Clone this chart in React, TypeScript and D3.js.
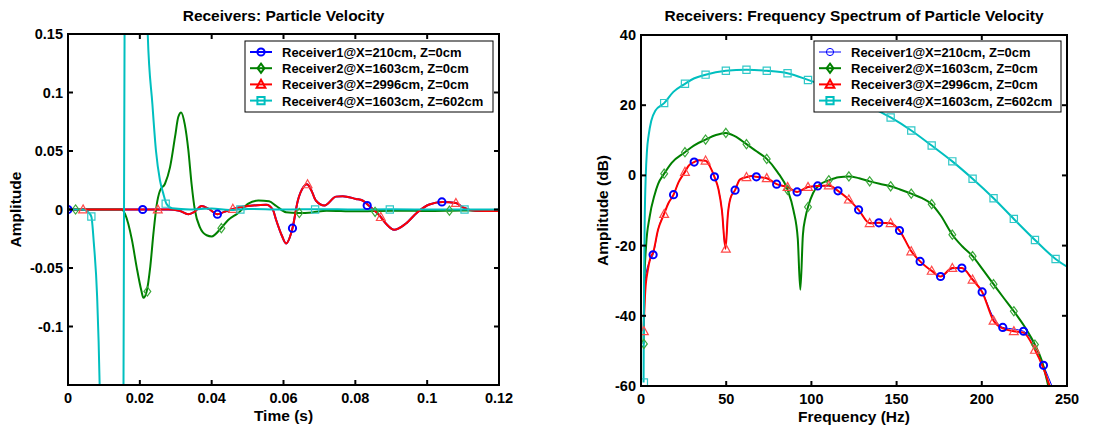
import React from 'react';
import * as d3 from 'd3';

const FONT = '"Liberation Sans", Arial, Helvetica, sans-serif';

// ---------- Tick values / labels ----------
const timeTicks = [0, 0.02, 0.04, 0.06, 0.08, 0.1, 0.12];
const timeTickLabels = ['0', '0.02', '0.04', '0.06', '0.08', '0.1', '0.12'];
const ampTicks = [0.15, 0.1, 0.05, 0, -0.05, -0.1];
const ampTickLabels = ['0.15', '0.1', '0.05', '0', '-0.05', '-0.1'];
const freqTicks = [0, 50, 100, 150, 200, 250];
const freqTickLabels = ['0', '50', '100', '150', '200', '250'];
const dbTicks = [40, 20, 0, -20, -40, -60];
const dbTickLabels = ['40', '20', '0', '-20', '-40', '-60'];

const legendLabels = [
  'Receiver1@X=210cm, Z=0cm',
  'Receiver2@X=1603cm, Z=0cm',
  'Receiver3@X=2996cm, Z=0cm',
  'Receiver4@X=1603cm, Z=602cm',
];
const seriesColors = ['#0000ff', '#008000', '#ff0000', '#00bfbf'];
const markerColorsSoft = ['#0000ff', '#3aa83a', '#ff4a4a', '#30c8c8'];
const markerShapes = ['circle', 'diamond', 'triangle', 'square'];

type P = [number, number];

// ---------- Time domain (particle velocity) ----------
const r1Time: P[] = [
  [0, 0], [0.028, 0], [0.031, -0.001], [0.0335, -0.004], [0.0352, -0.002], [0.0372, 0.003],
  [0.0392, 0.0005], [0.0416, -0.004], [0.0435, -0.002], [0.046, 0.0005], [0.049, 0.0025],
  [0.0515, 0.0034], [0.0552, 0.004], [0.057, 0.0], [0.058, -0.0094], [0.0595, -0.022],
  [0.0607, -0.029], [0.0625, -0.016], [0.064, 0.0077], [0.0655, 0.019], [0.0665, 0.0215],
  [0.0678, 0.016], [0.069, 0.0077], [0.0714, 0.0034], [0.0746, 0.011], [0.0765, 0.0114],
  [0.0802, 0.009], [0.082, 0.0077], [0.0837, 0.0034], [0.0867, -0.005], [0.0885, -0.012],
  [0.0908, -0.0174], [0.094, -0.0122], [0.0973, -0.0023], [0.1006, 0.0043], [0.1043, 0.0064],
  [0.108, 0.0055], [0.1098, 0.002], [0.1135, -0.001], [0.12, -0.0012],
];
const r2Time: P[] = [
  [0, 0], [0.015, 0], [0.0159, -0.004], [0.0178, -0.026], [0.0191, -0.049], [0.0204, -0.069],
  [0.021, -0.0755], [0.0219, -0.07], [0.0229, -0.049], [0.0238, -0.02], [0.0247, 0.004],
  [0.0256, 0.016], [0.027, 0.022], [0.0284, 0.036], [0.0298, 0.062], [0.0307, 0.079],
  [0.0315, 0.083], [0.0325, 0.073], [0.0335, 0.051], [0.0344, 0.022], [0.0353, 0.0],
  [0.0367, -0.015], [0.0386, -0.022], [0.04, -0.023], [0.0426, -0.016], [0.0446, -0.009],
  [0.0474, -0.003], [0.0502, 0.005], [0.053, 0.0077], [0.056, 0.007], [0.058, 0.003],
  [0.0607, -0.0023], [0.064, -0.003], [0.068, -0.0025], [0.072, -0.001], [0.08, -0.0015],
  [0.09, -0.001], [0.1, -0.0012], [0.11, -0.0008], [0.12, -0.0008],
];
const r3Time: P[] = [
  [0, 0], [0.028, 0], [0.031, -0.001], [0.0335, -0.004], [0.0352, -0.002], [0.0372, 0.003],
  [0.0392, 0.0005], [0.0416, -0.004], [0.0435, -0.002], [0.046, 0.0005], [0.049, 0.0025],
  [0.0515, 0.0034], [0.0552, 0.004], [0.057, 0.0], [0.058, -0.0094], [0.0595, -0.022],
  [0.0607, -0.029], [0.0625, -0.016], [0.064, 0.0077], [0.0655, 0.019], [0.0665, 0.0215],
  [0.0678, 0.016], [0.069, 0.0077], [0.0714, 0.0034], [0.0746, 0.011], [0.0765, 0.0114],
  [0.0802, 0.009], [0.082, 0.0077], [0.0837, 0.0034], [0.0867, -0.005], [0.0885, -0.012],
  [0.0908, -0.0174], [0.094, -0.0122], [0.0973, -0.0023], [0.1006, 0.0043], [0.1043, 0.0064],
  [0.108, 0.0055], [0.1098, 0.002], [0.1135, -0.001], [0.12, -0.0012],
];
const r4Time: P[] = [
  [0, 0], [0.004, 0], [0.0055, -0.002], [0.0065, -0.006], [0.0072, -0.029], [0.0081, -0.074],
  [0.0088, -0.148], [0.0095, -0.3], [0.012, -0.6], [0.015, -0.5], [0.0154, -0.2], [0.0156, 0],
  [0.0158, 0.2], [0.0165, 0.5], [0.019, 0.6], [0.0212, 0.3], [0.0222, 0.15], [0.0235, 0.09],
  [0.0245, 0.05], [0.0256, 0.025], [0.0265, 0.014], [0.0274, 0.005], [0.029, 0.001],
  [0.034, 0.0], [0.04, 0.0008], [0.045, -0.0005], [0.05, 0.0005], [0.06, 0.0], [0.07, 0.0003],
  [0.08, 0.0], [0.09, 0.0002], [0.1, 0.0], [0.12, 0.0],
];
const r1TimeMarkers: P[] = [[0, 0], [0.0208, 0], [0.0416, -0.004], [0.0625, -0.016], [0.0833, 0.0034], [0.1041, 0.0065]];
const r2TimeMarkers: P[] = [[0.0021, 0], [0.0221, -0.07], [0.0427, -0.016], [0.0644, -0.003], [0.0855, -0.002], [0.1062, -0.001]];
const r3TimeMarkers: P[] = [[0.0042, 0], [0.025, 0], [0.0459, 0.0005], [0.0667, 0.0215], [0.0871, -0.0065], [0.108, 0.0055]];
const r4TimeMarkers: P[] = [[0.0065, -0.006], [0.0272, 0.005], [0.048, 0], [0.0688, 0], [0.0896, 0], [0.1104, 0]];

// ---------- Frequency spectrum (dB) ----------
const r1Spec: P[] = [
  [1.5, -35], [3, -28], [5, -24.5], [7.1, -22.6], [10, -15.5], [13.6, -10.8], [16, -8], [19.1, -5.5],
  [22, -2], [25.8, 1.0], [28, 2.8], [31.2, 3.8], [34, 4.3], [37.9, 4.2], [40.5, 2.5], [43.1, -0.4],
  [45.5, -4], [47.5, -10], [49.5, -20.5], [51, -11], [52.5, -6.5], [55.2, -4.2], [58, -1.2],
  [61.9, -0.5], [65, -0.2], [67.7, -0.4], [73.8, -0.8], [79.6, -2.5], [86, -3.4], [91.6, -4.7],
  [98, -3.4], [103.7, -3.0], [110.2, -3.0], [115.6, -4.4], [122, -6.8], [127.7, -9.8],
  [134.2, -13.5], [139.6, -13.5], [146.5, -13.7], [151.7, -15.7], [158.6, -21.5], [163.8, -24.5],
  [170.6, -27.2], [175.8, -28.8], [182.7, -26.6], [188.3, -26.4], [194.6, -29.5], [200.2, -33.2],
  [206.9, -40.5], [212.3, -43.3], [218.8, -43.8], [224.5, -44.4], [231.2, -48.5], [236.2, -54.1],
  [242, -61],
];
const r2Spec: P[] = [
  [1.5, -48], [2, -30], [3, -20], [5, -12], [8, -5.5], [10, -2.5], [13.6, 0.5], [18, 3.6],
  [25.8, 6.6], [31, 8.5], [37.9, 10.2], [44, 11.5], [49.8, 12.1], [55, 11.2], [61.9, 8.9],
  [68, 6.8], [73.8, 4.7], [80, 1], [86, -4.1], [89.5, -10], [92, -18], [93.5, -32.6], [95, -17],
  [96.5, -12], [98, -9], [101, -5], [105, -2.6], [110.2, -1.4], [116, -0.5], [122, -0.3],
  [128, -0.8], [134.2, -1.7], [140, -2.4], [146.5, -3.1], [152, -4], [158.6, -5.2], [165, -6.5],
  [170.6, -8.2], [176, -11.5], [182.7, -16.9], [188.5, -20.2], [194.6, -23], [200.5, -26.8],
  [206.9, -31], [213, -35], [218.8, -38.7], [225, -43], [231.2, -48.2], [235, -52.5], [239.5, -61],
];
const r3Spec: P[] = [
  [1.5, -44.4], [2.5, -33], [4, -27], [5.5, -23.5], [7.1, -22], [10, -15.5], [13.6, -10.9],
  [16, -8], [19.1, -5.5], [22, -2], [25.8, 1.0], [28, 2.8], [31.2, 3.8], [34, 4.3], [37.9, 4.2],
  [40.5, 2.5], [43.1, -0.4], [45.5, -4], [47.5, -10], [49.6, -20.9], [51, -11], [52.5, -6.5],
  [55.2, -4.2], [58, -1.2], [61.9, -0.5], [65, -0.2], [67.7, -0.4], [73.8, -0.8], [79.6, -2.5],
  [86, -3.3], [91.6, -4.7], [98, -3.3], [103.7, -3.0], [110.2, -2.9], [115.6, -4.4], [122, -6.9],
  [127.7, -9.8], [134.2, -13.6], [139.6, -13.5], [146.5, -13.6], [151.7, -15.7], [158.6, -21.6],
  [163.8, -24.5], [170.6, -27.2], [175.8, -28.8], [182.7, -26.4], [188.3, -26.4], [194.6, -29.7],
  [200.2, -33.2], [206.9, -41.4], [212.3, -43.6], [218.8, -44.4], [224.5, -44.8], [231.2, -49.7],
  [236.2, -55], [240.5, -61],
];
const r4Spec: P[] = [
  [1.5, -59], [1.8, -30], [2.2, -12], [2.8, 0], [3.5, 7], [4.5, 11.5], [6, 15.5], [8.5, 18.5],
  [13.6, 20.6], [19, 23.8], [25.8, 26.1], [31, 27.6], [37.9, 28.7], [49.8, 29.8], [61.9, 30.1],
  [73.8, 29.8], [86, 29.1], [98, 27.2], [110.2, 25.0], [122, 22.4], [134.2, 19.6], [146.5, 16.5],
  [158.6, 12.8], [170.6, 8.5], [182.7, 4.0], [194.6, -0.95], [206.9, -6.5], [218.8, -12.4],
  [231.2, -18.4], [243.3, -23.8], [250, -26],
];
const r1SpecMarkers: P[] = [
  [7.1, -22.6], [19.1, -5.5], [31.2, 3.8], [43.1, -0.4], [55.2, -4.2], [67.7, -0.4], [79.6, -2.5],
  [91.6, -4.7], [103.7, -3.0], [115.6, -4.4], [127.7, -9.8], [139.6, -13.5], [151.7, -15.7],
  [163.8, -24.5], [175.8, -28.8], [188.3, -26.4], [200.2, -33.2], [212.3, -43.3], [224.5, -44.4],
  [236.2, -54.1],
];
const r2SpecMarkers: P[] = [
  [1.7, -48], [13.6, 0.5], [25.8, 6.6], [37.9, 10.2], [49.8, 12.1], [61.9, 8.9], [73.8, 4.7],
  [86, -4.1], [98, -9], [110.2, -1.4], [122, -0.3], [134.2, -1.7], [146.5, -3.1], [158.6, -5.2],
  [170.6, -8.2], [182.7, -16.9], [194.6, -23], [206.9, -31], [218.8, -38.7], [231.2, -48.2],
];
const r3SpecMarkers: P[] = [
  [1.7, -44.4], [13.6, -11], [25.8, 1], [37.9, 4.2], [49.8, -20.9], [61.9, -0.5], [73.8, -0.8],
  [86, -3.3], [98, -3.3], [110.2, -2.85], [122, -6.9], [134.2, -13.6], [146.5, -13.6],
  [158.6, -21.65], [170.6, -27.2], [182.7, -26.4], [194.6, -29.7], [206.9, -41.4], [218.8, -44.4],
  [231.2, -49.7],
];
const r4SpecMarkers: P[] = [
  [1.7, -59], [13.6, 20.6], [25.8, 26.1], [37.9, 28.7], [49.8, 29.8], [61.9, 30.1], [73.8, 29.8],
  [86, 29.1], [98, 27.2], [110.2, 25], [122, 22.4], [134.2, 19.6], [146.5, 16.5], [158.6, 12.8],
  [170.6, 8.5], [182.7, 4.0], [194.6, -0.95], [206.9, -6.5], [218.8, -12.4], [231.2, -18.4],
  [243.3, -23.8],
];

// ---------- helpers ----------
function markerPath(shape: string): string {
  switch (shape) {
    case 'circle':
      return 'M3.6,0A3.6,3.6 0 1,1 -3.6,0A3.6,3.6 0 1,1 3.6,0Z';
    case 'diamond':
      return 'M0,-4.6L3.4,0L0,4.6L-3.4,0Z';
    case 'triangle':
      return 'M0,-4.6L4.4,3.4L-4.4,3.4Z';
    default:
      return 'M-3.6,-3.6L3.6,-3.6L3.6,3.6L-3.6,3.6Z';
  }
}

type Series = {
  line: P[];
  markers: P[];
  color: string;
  markerColor: string;
  shape: string;
  lw: number;
  mw: number;
  legendLw: number;
  legendMw: number;
};

type PanelProps = {
  id: string;
  x0: number; x1: number; y0: number; y1: number;
  xDomain: [number, number]; yDomain: [number, number];
  xTicks: number[]; xTickLabels: string[];
  yTicks: number[]; yTickLabels: string[];
  title: string; xLabel: string; yLabel: string; yLabelX: number;
  series: Series[];
  legendX: number; legendY: number; legendW: number; legendH: number;
};

function Panel(p: PanelProps) {
  const x = d3.scaleLinear().domain(p.xDomain).range([p.x0, p.x1]);
  const y = d3.scaleLinear().domain(p.yDomain).range([p.y1, p.y0]);
  const line = d3.line<P>().x(d => x(d[0])).y(d => y(d[1])).curve(d3.curveMonotoneX);
  const tl = 5;
  const cx = (p.x0 + p.x1) / 2;
  const cy = (p.y0 + p.y1) / 2;
  const rowH = 16.2;
  return (
    <g>
      <defs>
        <clipPath id={p.id}>
          <rect x={p.x0} y={p.y0} width={p.x1 - p.x0} height={p.y1 - p.y0} />
        </clipPath>
      </defs>
      <rect x={p.x0} y={p.y0} width={p.x1 - p.x0} height={p.y1 - p.y0} fill="#fff" />
      <g clipPath={`url(#${p.id})`}>
        {p.series.map((s, i) => (
          <path key={i} d={line(s.line) || ''} fill="none" stroke={s.color} strokeWidth={s.lw} strokeLinejoin="round" />
        ))}
        {p.series.map((s, i) => (
          <g key={'m' + i}>
            {s.markers.map((m, j) => (
              <path key={j} d={markerPath(s.shape)} transform={`translate(${x(m[0])},${y(m[1])})`}
                fill="none" stroke={s.markerColor} strokeWidth={s.mw} />
            ))}
          </g>
        ))}
      </g>
      {/* frame */}
      <rect x={p.x0} y={p.y0} width={p.x1 - p.x0} height={p.y1 - p.y0} fill="none" stroke="#000" strokeWidth={2} />
      {/* ticks */}
      {p.xTicks.map((t, i) => (
        <g key={'xt' + i}>
          <line x1={x(t)} x2={x(t)} y1={p.y1} y2={p.y1 - tl} stroke="#000" strokeWidth={2} />
          <line x1={x(t)} x2={x(t)} y1={p.y0} y2={p.y0 + tl} stroke="#000" strokeWidth={2} />
          <text x={x(t)} y={p.y1 + 18} textAnchor="middle" fontSize={14.5} fontWeight="bold" fontFamily={FONT}>{p.xTickLabels[i]}</text>
        </g>
      ))}
      {p.yTicks.map((t, i) => (
        <g key={'yt' + i}>
          <line x1={p.x0} x2={p.x0 + tl} y1={y(t)} y2={y(t)} stroke="#000" strokeWidth={2} />
          <line x1={p.x1} x2={p.x1 - tl} y1={y(t)} y2={y(t)} stroke="#000" strokeWidth={2} />
          <text x={p.x0 - 5} y={y(t) + 5} textAnchor="end" fontSize={14.5} fontWeight="bold" fontFamily={FONT}>{p.yTickLabels[i]}</text>
        </g>
      ))}
      <text x={cx} y={21} textAnchor="middle" fontSize={15.5} fontWeight="bold" fontFamily={FONT}>{p.title}</text>
      <text x={cx} y={p.y1 + 36} textAnchor="middle" fontSize={15.5} fontWeight="bold" fontFamily={FONT}>{p.xLabel}</text>
      <text transform={`translate(${p.yLabelX},${cy}) rotate(-90)`} textAnchor="middle" fontSize={15.5} fontWeight="bold" fontFamily={FONT}>{p.yLabel}</text>
      {/* legend */}
      <rect x={p.legendX} y={p.legendY} width={p.legendW} height={p.legendH} fill="#fff" stroke="#000" strokeWidth={1} />
      {p.series.map((s, i) => {
        const ry = p.legendY + 11 + i * rowH;
        return (
          <g key={'lg' + i}>
            <line x1={p.legendX + 5} x2={p.legendX + 27} y1={ry} y2={ry} stroke={s.color} strokeWidth={s.legendLw} />
            <path d={markerPath(s.shape)} transform={`translate(${p.legendX + 16},${ry})`} fill="none" stroke={s.color} strokeWidth={s.legendMw} />
            <text x={p.legendX + 37} y={ry + 5} fontSize={13} fontWeight="bold" fontFamily={FONT}>{legendLabels[i]}</text>
          </g>
        );
      })}
    </g>
  );
}

export default function App() {
  const timeLines = [r1Time, r2Time, r3Time, r4Time];
  const timeMarks = [r1TimeMarkers, r2TimeMarkers, r3TimeMarkers, r4TimeMarkers];
  const specLines = [r1Spec, r2Spec, r3Spec, r4Spec];
  const specMarks = [r1SpecMarkers, r2SpecMarkers, r3SpecMarkers, r4SpecMarkers];

  const leftSeries: Series[] = [0, 1, 2, 3].map(i => ({
    line: timeLines[i], markers: timeMarks[i], color: seriesColors[i],
    markerColor: markerColorsSoft[i], shape: markerShapes[i],
    lw: 2, mw: i === 0 ? 2 : 1.2, legendLw: 2, legendMw: 2,
  }));
  const rightSeries: Series[] = [0, 1, 2, 3].map(i => ({
    line: specLines[i], markers: specMarks[i], color: seriesColors[i],
    markerColor: markerColorsSoft[i], shape: markerShapes[i],
    lw: i === 0 ? 1 : 2, mw: i === 0 ? 2 : 1.2, legendLw: i === 0 ? 1 : 2, legendMw: i === 0 ? 1 : 2,
  }));

  return (
    <svg width={1107} height={431} style={{ position: 'absolute', left: 0, top: 0, background: '#fff' }}>
      <rect width={1107} height={431} fill="#fff" />
      <Panel id="clipL" x0={68} x1={499} y0={34} y1={385}
        xDomain={[0, 0.12]} yDomain={[-0.15, 0.15]}
        xTicks={timeTicks} xTickLabels={timeTickLabels}
        yTicks={ampTicks} yTickLabels={ampTickLabels}
        title="Receivers: Particle Velocity" xLabel="Time (s)" yLabel="Amplitude" yLabelX={21}
        series={leftSeries} legendX={245} legendY={41} legendW={248} legendH={71} />
      <Panel id="clipR" x0={641} x1={1067} y0={35} y1={386}
        xDomain={[0, 250]} yDomain={[-60, 40]}
        xTicks={freqTicks} xTickLabels={freqTickLabels}
        yTicks={dbTicks} yTickLabels={dbTickLabels}
        title="Receivers: Frequency Spectrum of Particle Velocity" xLabel="Frequency (Hz)" yLabel="Amplitude (dB)" yLabelX={608}
        series={rightSeries} legendX={814} legendY={41} legendW={247} legendH={71} />
    </svg>
  );
}
